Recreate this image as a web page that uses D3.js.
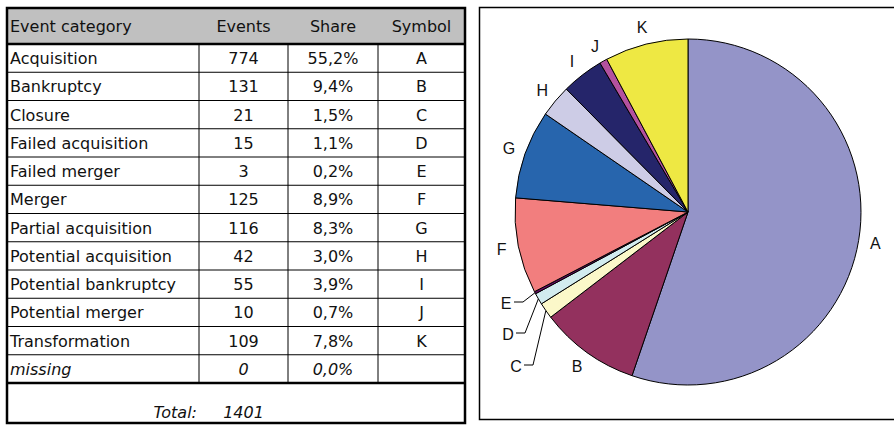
<!DOCTYPE html>
<html>
<head>
<meta charset="utf-8">
<script src="https://cdn.jsdelivr.net/npm/d3@7"></script>
<style>
  html, body { margin: 0; padding: 0; background: #fff; }
  svg { display: block; }
</style>
</head>
<body>
<svg id="chart" width="894" height="426"></svg>
<script>
// Event categories and their counts
const categories = [
  "Acquisition", "Bankruptcy", "Closure", "Failed acquisition", "Failed merger",
  "Merger", "Partial acquisition", "Potential acquisition", "Potential bankruptcy",
  "Potential merger", "Transformation", "missing"
];
const events = [774, 131, 21, 15, 3, 125, 116, 42, 55, 10, 109, 0];
const shareLabels = ["55,2%", "9,4%", "1,5%", "1,1%", "0,2%", "8,9%", "8,3%", "3,0%", "3,9%", "0,7%", "7,8%", "0,0%"];
const symbols = ["A", "B", "C", "D", "E", "F", "G", "H", "I", "J", "K", ""];
const sliceColors = ["#9494c8", "#93315e", "#fbf8c9", "#d2ecef", "#660a66", "#f27e7e",
                     "#2765ad", "#cdcce6", "#25256a", "#b3519f", "#eee843"];
const headers = ["Event category", "Events", "Share", "Symbol"];
const totalLabel = "Total:";
const total = d3.sum(events);

const svg = d3.select("#chart");
const FONT = "'DejaVu Sans', sans-serif";

// ---------- Table ----------
const tbl = { x0: 7, x1: 465, y0: 8, headBottom: 44, rowH: 28.25, y1: 423 };
const colEdges = [tbl.x0, 199, 288, 378, tbl.x1];
const rowsBottom = tbl.headBottom + tbl.rowH * categories.length;

const rowY = d3.scaleBand()
  .domain(d3.range(categories.length))
  .range([tbl.headBottom, rowsBottom])
  .padding(0);

const table = svg.append("g");

// header band
table.append("rect")
  .attr("x", tbl.x0).attr("y", tbl.y0)
  .attr("width", tbl.x1 - tbl.x0).attr("height", tbl.headBottom - tbl.y0)
  .attr("fill", "#c0c0c0");

// horizontal row rules
table.selectAll("line.row")
  .data(d3.range(1, categories.length))
  .join("line")
  .attr("class", "row")
  .attr("x1", tbl.x0).attr("x2", tbl.x1)
  .attr("y1", i => rowY(i)).attr("y2", i => rowY(i))
  .attr("stroke", "#000").attr("stroke-width", 1);

// vertical column rules (data rows only)
table.selectAll("line.col")
  .data(colEdges.slice(1, 4))
  .join("line")
  .attr("class", "col")
  .attr("x1", d => d).attr("x2", d => d)
  .attr("y1", tbl.headBottom).attr("y2", rowsBottom)
  .attr("stroke", "#000").attr("stroke-width", 1);

// thick rules: below header and above total
[tbl.headBottom, rowsBottom].forEach(y => {
  table.append("line")
    .attr("x1", tbl.x0).attr("x2", tbl.x1)
    .attr("y1", y).attr("y2", y)
    .attr("stroke", "#000").attr("stroke-width", 2.5);
});

// outer frame
table.append("rect")
  .attr("x", tbl.x0).attr("y", tbl.y0)
  .attr("width", tbl.x1 - tbl.x0).attr("height", tbl.y1 - tbl.y0)
  .attr("fill", "none").attr("stroke", "#000").attr("stroke-width", 2.5);

const colCenter = i => (colEdges[i] + colEdges[i + 1]) / 2;

// header text
table.selectAll("text.head")
  .data(headers)
  .join("text")
  .attr("class", "head")
  .attr("x", (d, i) => i === 0 ? tbl.x0 + 3 : colCenter(i))
  .attr("y", (tbl.y0 + tbl.headBottom) / 2 + 6)
  .attr("text-anchor", (d, i) => i === 0 ? "start" : "middle")
  .attr("font-family", FONT).attr("font-size", 16)
  .attr("fill", "#111")
  .text(d => d);

// body text
const rows = table.selectAll("g.r")
  .data(categories.map((c, i) => ({ c, n: events[i], s: shareLabels[i], sym: symbols[i], i })))
  .join("g")
  .attr("class", "r")
  .attr("font-family", FONT).attr("font-size", 16).attr("fill", "#111")
  .attr("font-style", d => d.c === "missing" ? "italic" : "normal");

const baseline = d => rowY(d.i) + rowY.bandwidth() / 2 + 6;
rows.append("text").attr("x", tbl.x0 + 3).attr("y", baseline).text(d => d.c);
rows.append("text").attr("x", colCenter(1)).attr("y", baseline).attr("text-anchor", "middle").text(d => d.n);
rows.append("text").attr("x", colCenter(2)).attr("y", baseline).attr("text-anchor", "middle").text(d => d.s);
rows.append("text").attr("x", colCenter(3)).attr("y", baseline).attr("text-anchor", "middle").text(d => d.sym);

// total row
table.append("text")
  .attr("x", colEdges[1] - 2).attr("y", tbl.y1 - 5)
  .attr("text-anchor", "end")
  .attr("font-family", FONT).attr("font-size", 16).attr("font-style", "italic").attr("fill", "#111")
  .text(totalLabel);
table.append("text")
  .attr("x", colCenter(1)).attr("y", tbl.y1 - 5)
  .attr("text-anchor", "middle")
  .attr("font-family", FONT).attr("font-size", 16).attr("font-style", "italic").attr("fill", "#111")
  .text(total);

// ---------- Pie ----------
svg.append("rect")
  .attr("x", 479.5).attr("y", 7.5)
  .attr("width", 440).attr("height", 412)
  .attr("fill", "#fff").attr("stroke", "#000").attr("stroke-width", 1.5);

const cx = 688, cy = 212, R = 173;
const pieData = symbols.slice(0, 11).map((s, i) => ({ sym: s, value: events[i], color: sliceColors[i] }));

const pie = d3.pie().sort(null).value(d => d.value).startAngle(0).endAngle(2 * Math.PI);
const arcs = pie(pieData);
const arc = d3.arc().innerRadius(0).outerRadius(R);

const pg = svg.append("g").attr("transform", `translate(${cx},${cy})`);
pg.selectAll("path")
  .data(arcs)
  .join("path")
  .attr("d", arc)
  .attr("fill", d => d.data.color)
  .attr("stroke", "#000")
  .attr("stroke-width", 1)
  .attr("stroke-linejoin", "round");

const mid = d => (d.startAngle + d.endAngle) / 2;
const polar = (a, r) => [Math.sin(a) * r, -Math.cos(a) * r];

// small slices get leader lines to labels set off to the left
const leader = {
  C: { elbow: [-155, 153], label: [-172, 154] },
  D: { elbow: [-163, 121], label: [-180, 122] },
  E: { elbow: [-165, 90], label: [-182, 91] }
};

const labelFont = "'Liberation Sans', Arial, sans-serif";
arcs.forEach(d => {
  const s = d.data.sym;
  if (leader[s]) {
    const p0 = polar(mid(d), R);
    const L = leader[s];
    pg.append("polyline")
      .attr("points", [p0, L.elbow, [L.elbow[0] - 9, L.elbow[1]]].map(p => p.join(",")).join(" "))
      .attr("fill", "none").attr("stroke", "#000").attr("stroke-width", 1);
    pg.append("text")
      .attr("x", L.label[0]).attr("y", L.label[1])
      .attr("dy", "0.35em").attr("text-anchor", "middle")
      .attr("font-family", labelFont).attr("font-size", 16).attr("fill", "#111")
      .text(s);
  } else {
    const p = polar(mid(d), R + 17);
    pg.append("text")
      .attr("x", p[0]).attr("y", p[1])
      .attr("dy", "0.35em").attr("text-anchor", "middle")
      .attr("font-family", labelFont).attr("font-size", 16).attr("fill", "#111")
      .text(s);
  }
});
</script>
</body>
</html>
